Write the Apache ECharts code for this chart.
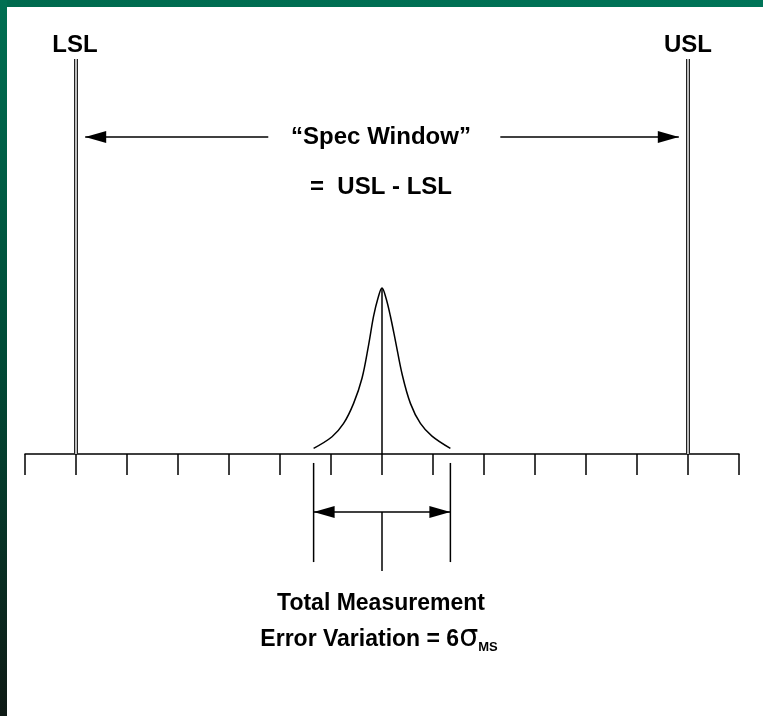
<!DOCTYPE html>
<html><head><meta charset="utf-8">
<script src="https://cdn.jsdelivr.net/npm/echarts@6/dist/echarts.min.js"></script>
<style>html,body{margin:0;padding:0;background:#fff}#c{width:763px;height:716px}</style>
</head><body><div id="c"></div>
<script>
// ---- data ----
const axisMin = -7, axisMax = 7, axisStep = 1;
const limitNames = ['LSL', 'USL'];
const limitValues = [-6, 6];
const limitTop = 2.38;
const curveX = [-1.341, -0.98, -0.753, -0.557, -0.392, -0.263, -0.165, -0.078, 0, 0.078, 0.165, 0.267, 0.398, 0.557, 0.753, 0.98, 1.341];
const curveY = [0.034, 0.104, 0.184, 0.305, 0.456, 0.656, 0.83, 0.94, 1.0, 0.94, 0.83, 0.676, 0.476, 0.305, 0.184, 0.108, 0.034];
const measHalf = 1.341;          // ±3 sigma_MS
const measArrowY = -0.349;
const measLineTop = -0.054, measLineBottom = -0.651;
const centerLowerBottom = -0.705;
const specArrowY = 1.91;
const specArrowTips = [-5.82, 5.82];
const specArrowInner = [-2.23, 2.32];
const specTitle = '\u201CSpec Window\u201D';
const specFormula = '=  USL - LSL';
const measText1 = 'Total Measurement';
const measText2 = 'Error Variation = 6';
const sigmaChar = '\u03C3';
const sigmaSub = 'MS';

// ---- build ----
const segments = [
  [0, 1, 0, 0],
  [0, measArrowY, 0, centerLowerBottom],
  [-measHalf, measLineTop, -measHalf, measLineBottom],
  [measHalf, measLineTop, measHalf, measLineBottom],
  [-measHalf, measArrowY, measHalf, measArrowY],
  [specArrowTips[0], specArrowY, specArrowInner[0], specArrowY],
  [specArrowInner[1], specArrowY, specArrowTips[1], specArrowY]
];
const arrowHeads = [
  [-measHalf, measArrowY, -1], [measHalf, measArrowY, 1],
  [specArrowTips[0], specArrowY, -1], [specArrowTips[1], specArrowY, 1]
];
const limitLines = limitValues.map(v => [v, 0, v, limitTop]);
const curveData = curveX.map((x, i) => [x, curveY[i]]);

const chart = echarts.init(document.getElementById('c'), null, {renderer: 'canvas'});
const FONT = '"Liberation Sans", Arial, sans-serif';

// measure for the composed sigma label
const cv = document.createElement('canvas').getContext('2d');
function tw(txt, font) { cv.font = font; return cv.measureText(txt).width; }
const f1 = 'bold 23px ' + FONT, fs = '30px "DejaVu Sans", sans-serif', fsub = 'bold 13px ' + FONT;
const w1 = tw(measText2, f1), ws = tw(sigmaChar, fs), wsub = tw(sigmaSub, fsub);
const total = w1 + ws + wsub;
const startX = 379 - total / 2;

function txt(t, x, y, font, align) {
  return {type: 'text', x: x, y: y, silent: true, z: 10,
    style: {text: t, font: font, fill: '#000', align: align || 'center', verticalAlign: 'middle',
            textAlign: align || 'center', textVerticalAlign: 'middle'}};
}

const option = {
  backgroundColor: '#fff',
  animation: false,
  grid: {left: 25, right: 24, top: 5.8, bottom: 13},
  xAxis: {
    type: 'value', min: axisMin, max: axisMax, interval: axisStep,
    axisLine: {onZero: true, lineStyle: {color: '#000', width: 1.5}},
    axisTick: {show: true, length: 21, lineStyle: {color: '#000', width: 1.5}},
    axisLabel: {show: false}, splitLine: {show: false}
  },
  yAxis: {type: 'value', min: -1.5, max: 2.7, show: false, splitLine: {show: false}},
  graphic: [
    {type: 'rect', shape: {x: 0, y: 0, width: 763, height: 7}, silent: true,
     style: {fill: new echarts.graphic.LinearGradient(0, 0, 1, 0, [{offset: 0, color: '#006a4e'}, {offset: 1, color: '#007458'}])}},
    {type: 'rect', shape: {x: 0, y: 0, width: 7, height: 716}, silent: true,
     style: {fill: new echarts.graphic.LinearGradient(0, 0, 0, 1, [{offset: 0, color: '#006f52'}, {offset: 0.5, color: '#004a36'}, {offset: 1, color: '#0e1a15'}])}},
    txt(limitNames[0], 75, 45, 'bold 24px ' + FONT),
    txt(limitNames[1], 688, 45, 'bold 24px ' + FONT),
    txt(specTitle, 381, 137, 'bold 24px ' + FONT),
    txt(specFormula, 381, 187, 'bold 24px ' + FONT),
    txt(measText1, 381, 604, 'bold 23px ' + FONT),
    txt(measText2, startX, 640, f1, 'left'),
    txt(sigmaChar, startX + w1, 638, fs, 'left'),
    txt(sigmaSub, startX + w1 + ws, 647, fsub, 'left')
  ],
  series: [
    {
      type: 'line', data: curveData, smooth: 0.35, showSymbol: false, symbol: 'none', clip: false,
      lineStyle: {color: '#000', width: 1.5}, z: 3
    },
    {
      type: 'custom', data: segments, encode: {x: [0, 2], y: [1, 3]}, clip: false, z: 4,
      renderItem: function (params, api) {
        const a = api.coord([api.value(0), api.value(1)]);
        const b = api.coord([api.value(2), api.value(3)]);
        return {type: 'line', shape: {x1: a[0], y1: a[1], x2: b[0], y2: b[1]},
                style: {stroke: '#000', lineWidth: 1.5}};
      }
    },
    {
      type: 'custom', data: limitLines, encode: {x: [0, 2], y: [1, 3]}, clip: false, z: 5,
      renderItem: function (params, api) {
        const a = api.coord([api.value(0), api.value(1)]);
        const b = api.coord([api.value(2), api.value(3)]);
        const sh = {x1: a[0], y1: a[1], x2: b[0], y2: b[1]};
        return {type: 'group', children: [
          {type: 'line', shape: sh, style: {stroke: '#222', lineWidth: 4}},
          {type: 'line', shape: sh, style: {stroke: '#fff', lineWidth: 1.4}}
        ]};
      }
    },
    {
      type: 'custom', data: arrowHeads, encode: {x: 0, y: 1}, clip: false, z: 6,
      renderItem: function (params, api) {
        const p = api.coord([api.value(0), api.value(1)]);
        const d = api.value(2);
        const L = 21, H = 6;
        return {type: 'polygon', shape: {points: [[p[0], p[1]], [p[0] - d * L, p[1] - H], [p[0] - d * L, p[1] + H]]},
                style: {fill: '#000'}};
      }
    }
  ]
};
chart.setOption(option);
</script>
</body></html>
